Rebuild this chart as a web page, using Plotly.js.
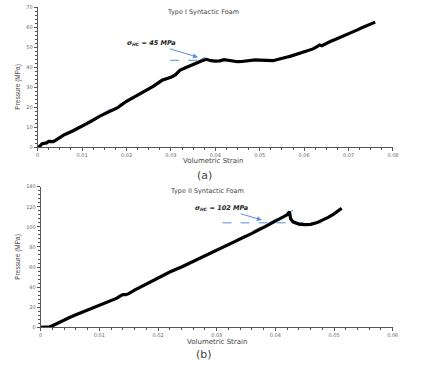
<!DOCTYPE html>
<html>
<head>
<meta charset="utf-8">
<script src="https://cdn.plot.ly/plotly-3.0.1.min.js"></script>
<style>html,body{margin:0;padding:0;background:#fff;}#chart{width:443px;height:365px;}</style>
</head>
<body>
<div id="chart"></div>
<script>
// Type I syntactic foam
const strainA = [0, 0.0005, 0.001, 0.0015, 0.002, 0.0025, 0.003, 0.0035, 0.004, 0.0045, 0.006, 0.008, 0.01, 0.012, 0.014, 0.016, 0.018, 0.02, 0.022, 0.024, 0.026, 0.028, 0.03, 0.031, 0.032, 0.033, 0.034, 0.035, 0.036, 0.037, 0.038, 0.039, 0.04, 0.041, 0.042, 0.043, 0.044, 0.045, 0.046, 0.047, 0.048, 0.049, 0.05, 0.051, 0.052, 0.053, 0.054, 0.055, 0.056, 0.057, 0.058, 0.059, 0.06, 0.061, 0.062, 0.063, 0.0635, 0.064, 0.065, 0.066, 0.067, 0.068, 0.069, 0.07, 0.071, 0.072, 0.073, 0.074, 0.075, 0.076];
const pressureA = [0, 0.6, 1.8, 2.0, 2.2, 3.0, 3.0, 2.9, 3.5, 4.3, 6.3, 8.3, 10.5, 13, 15.6, 17.5, 19.8, 23, 25.5, 28, 30.5, 33.5, 35, 36.2, 38.5, 39.5, 40.5, 41.2, 42.5, 43.3, 44, 43.3, 43.1, 43.2, 43.8, 43.4, 43.2, 42.8, 42.9, 43.3, 43.6, 43.7, 43.6, 43.5, 43.6, 43.3, 43.9, 44.3, 45, 45.6, 46.3, 46.9, 47.6, 48.4, 49.2, 50.5, 51.2, 50.8, 52.0, 53, 53.9, 54.8, 55.7, 56.6, 57.6, 58.7, 59.8, 60.8, 61.7, 62.6];
const slopeA_x = [0.004, 0.0395];
const slopeA_y = [4, 47.2];
const flatA_x = [0.0298, 0.054];
const flatA_y = [43.5, 43.5];

// Type II syntactic foam
const strainB = [0, 0.001, 0.0015, 0.002, 0.003, 0.004, 0.005, 0.006, 0.008, 0.01, 0.012, 0.013, 0.0135, 0.014, 0.0145, 0.015, 0.016, 0.018, 0.02, 0.022, 0.024, 0.026, 0.028, 0.03, 0.032, 0.034, 0.036, 0.038, 0.04, 0.041, 0.042, 0.0424, 0.0426, 0.043, 0.0435, 0.044, 0.045, 0.046, 0.047, 0.048, 0.049, 0.05, 0.051, 0.0513];
const pressureB = [0, 0.3, 0.5, 1.5, 4.5, 7.3, 10, 12.5, 17, 21.6, 26.5, 29, 31, 32.5, 32.5, 33.5, 37, 43, 49.5, 55, 60, 65.5, 71, 76.5, 82, 87.5, 93.5, 99.5, 105.5, 108.5, 112, 115, 108, 105, 103.5, 102.8, 102.2, 102.5, 104, 106.5, 109.5, 113, 117, 118.5];
const slopeB_x = [0.028, 0.0443];
const slopeB_y = [71, 120.5];
const flatB_x = [0.031, 0.0485];
const flatB_y = [104, 104];

const xTitle = "Volumetric Strain";
const yTitle = "Pressure (MPa)";
const titleA = "Type I Syntactic Foam";
const titleB = "Type II Syntactic Foam";
const labelA = "<b><i>σ<sub>HC</sub> = 45 MPa</i></b>";
const labelB = "<b><i>σ<sub>HC</sub> = 102 MPa</i></b>";

const dashCol = "#5b8fd8";
const axCol = "#555";
const txtCol = "#444";
const tickFont = {family: "DejaVu Sans", size: 5, color: "#666"};

const traces = [
  {x: slopeA_x, y: slopeA_y, mode: "lines", line: {color: dashCol, width: 1, dash: "dash"}, xaxis: "x", yaxis: "y", hoverinfo: "skip"},
  {x: flatA_x, y: flatA_y, mode: "lines", line: {color: dashCol, width: 1, dash: "dash"}, xaxis: "x", yaxis: "y", hoverinfo: "skip"},
  {x: strainA, y: pressureA, mode: "lines", line: {color: "#000", width: 3.2}, xaxis: "x", yaxis: "y"},
  {x: slopeB_x, y: slopeB_y, mode: "lines", line: {color: dashCol, width: 1, dash: "dash"}, xaxis: "x2", yaxis: "y2", hoverinfo: "skip"},
  {x: flatB_x, y: flatB_y, mode: "lines", line: {color: dashCol, width: 1, dash: "dash"}, xaxis: "x2", yaxis: "y2", hoverinfo: "skip"},
  {x: strainB, y: pressureB, mode: "lines", line: {color: "#000", width: 3.2}, xaxis: "x2", yaxis: "y2"}
];

function axis(extra) {
  return Object.assign({
    showgrid: false, zeroline: false, showline: true, linecolor: axCol, linewidth: 1,
    ticks: "outside", ticklen: 3, tickcolor: axCol, tickwidth: 1, tickfont: tickFont,
    fixedrange: true
  }, extra);
}

function paperText(x, y, text, size, extra) {
  return Object.assign({xref: "paper", yref: "paper", x: x, y: y, text: text, showarrow: false,
    xanchor: "center", yanchor: "middle",
    font: {family: "DejaVu Sans", size: size, color: txtCol}}, extra || {});
}

const layout = {
  width: 443, height: 365,
  margin: {l: 0, r: 0, t: 0, b: 0},
  paper_bgcolor: "#fff", plot_bgcolor: "#fff",
  showlegend: false,
  xaxis: axis({domain: [0.0851, 0.887], range: [0, 0.08], dtick: 0.01, anchor: "y",
    minor: {dtick: 0.0025, ticklen: 2, tickcolor: axCol, ticks: "outside"}}),
  yaxis: axis({domain: [0.5964, 0.98], range: [0, 70], dtick: 10, anchor: "x",
    minor: {dtick: 2, ticklen: 2, tickcolor: axCol, ticks: "outside"}}),
  xaxis2: axis({domain: [0.0919, 0.8865], range: [0, 0.06], dtick: 0.01, anchor: "y2",
    minor: {dtick: 0.002, ticklen: 2, tickcolor: axCol, ticks: "outside"}}),
  yaxis2: axis({domain: [0.1033, 0.4885], range: [0, 140], dtick: 20, anchor: "x2",
    minor: {dtick: 4, ticklen: 2, tickcolor: axCol, ticks: "outside"}}),
  annotations: [
    paperText(0.458, 0.966, titleA, 6.5),
    paperText(0.481, 0.5597, xTitle, 7),
    paperText(0.4605, 0.5205, "(a)", 11),
    paperText(0.0406, 0.7625, yTitle, 6.5, {textangle: -90, font: {family: "Liberation Sans Narrow, Liberation Sans", size: 6.5, color: txtCol}}),
    paperText(0.4666, 0.4775, titleB, 6.5),
    paperText(0.489, 0.0638, xTitle, 7),
    paperText(0.4605, 0.0301, "(b)", 11),
    paperText(0.0406, 0.2967, yTitle, 6.5, {textangle: -90, font: {family: "Liberation Sans Narrow, Liberation Sans", size: 6.5, color: txtCol}}),
    // sigma labels with arrows pointing to the transition
    {xref: "x", yref: "y", x: 0.0361, y: 45, ax: 0.02566, ay: 52, axref: "x", ayref: "y", text: labelA,
      showarrow: true, arrowhead: 2, arrowsize: 1, arrowwidth: 1, arrowcolor: dashCol, standoff: 0,
      font: {family: "DejaVu Sans", size: 6.5, color: "#222"}},
    {xref: "x2", yref: "y2", x: 0.0377, y: 106.9, ax: 0.03085, ay: 118.5, axref: "x2", ayref: "y2", text: labelB,
      showarrow: true, arrowhead: 2, arrowsize: 1, arrowwidth: 1, arrowcolor: dashCol, standoff: 0,
      font: {family: "DejaVu Sans", size: 6.5, color: "#222"}}
  ]
};

Plotly.newPlot("chart", traces, layout, {staticPlot: true, displayModeBar: false});
</script>
</body>
</html>
